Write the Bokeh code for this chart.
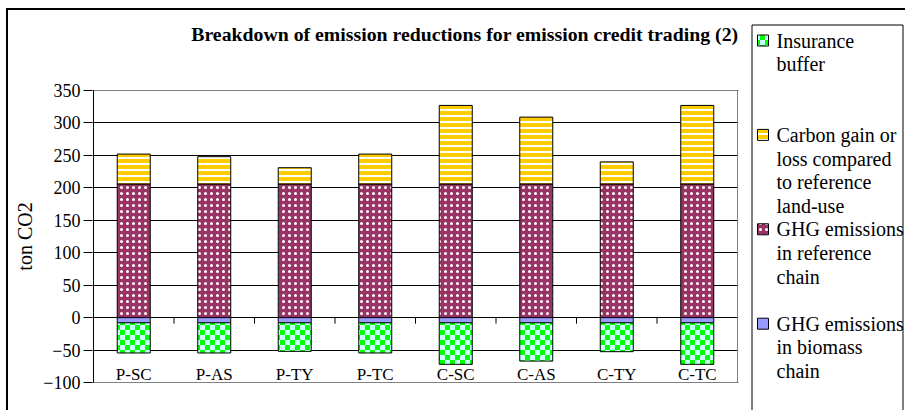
import math
from bokeh.plotting import figure
from bokeh.layouts import row
from bokeh.models import ColumnDataSource, Range1d, FixedTicker, CanvasTexture
from bokeh.embed import file_html
from bokeh.resources import INLINE
from bokeh.core.properties import value

# ---------------- data ----------------
categories = ["P-SC", "P-AS", "P-TY", "P-TC", "C-SC", "C-AS", "C-TY", "C-TC"]
insurance_buffer = [-46.5, -46.5, -44, -46.5, -64, -59, -44.5, -64]
carbon_gain = [46, 42, 25, 46, 121, 103, 34, 121]
ghg_reference = [206, 206, 206, 206, 206, 206, 206, 206]
ghg_biomass = [-8, -8, -8, -8, -8, -8, -8, -8]
y_ticks = [-100, -50, 0, 50, 100, 150, 200, 250, 300, 350]
y_min, y_max = -100, 350
series_names = ["Insurance\nbuffer",
                "Carbon gain or\nloss compared\nto reference\nland-use",
                "GHG emissions\nin reference\nchain",
                "GHG emissions\nin biomass\nchain"]
title_text = "Breakdown of emission reductions for emission credit trading (2)"
y_label = "ton CO2"

# ---------------- layout (page pixels) ----------------
FONT = "Liberation Serif"
GREEN, CYAN = "#00FF00", "#CCFFFF"
TOP, BOTTOM = 10, 410            # canvas rows used by all three panels
LAB_W = 32                       # y-label strip: page x 8..40
MAIN_X0, MAIN_X1 = 40, 745       # main chart canvas
PLOT_L, PLOT_R, PLOT_T, PLOT_B = 87, 737, 90, 382   # plot-area box
FRAME_L, FRAME_R = PLOT_L - 1, PLOT_R + 1
LEG_W = 905 - MAIN_X1
H = BOTTOM - TOP
TILE = 10

n = len(categories)
xs = [i + 0.5 for i in range(n)]
xpx = (PLOT_R - PLOT_L) / n
ypx = (PLOT_B - PLOT_T) / (y_max - y_min)

carb_top = [r + c for r, c in zip(ghg_reference, carbon_gain)]
ins_bottom = [b + i for b, i in zip(ghg_biomass, insurance_buffer)]

src = ColumnDataSource(dict(
    x=xs, zero=[0] * n, ref_top=ghg_reference, carb_top=carb_top,
    bio=ghg_biomass, ins_bottom=ins_bottom, pat=["checker"] * n,
))

checker = CanvasTexture(code=f"""
const S = {TILE}, h = {TILE // 2};
const c = ctx.canvas;
if (c && (c.width !== S || c.height !== S)) {{ c.width = S; c.height = S; }}
if (ctx.setTransform) {{ ctx.setTransform(1, 0, 0, 1, 0, 0); }}
ctx.fillStyle = '{CYAN}';
ctx.fillRect(0, 0, S, S);
ctx.fillStyle = '{GREEN}';
ctx.fillRect(0, 0, h, h);
ctx.fillRect(h, h, h, h);
""")

style_ins = dict(fill_color=CYAN, line_color="black", line_width=1,
                 hatch_pattern="pat", hatch_extra={"checker": checker},
                 hatch_color=GREEN, hatch_scale=TILE)
style_carb = dict(fill_color="#FFCC00", line_color="black", line_width=1,
                  hatch_pattern="horizontal_line", hatch_color="white",
                  hatch_scale=6, hatch_weight=2)
style_ref = dict(fill_color="#993366", line_color="black", line_width=1,
                 hatch_pattern="dot", hatch_color="white", hatch_scale=6,
                 hatch_weight=1.2)
style_bio = dict(fill_color="#9999FF", line_color="black", line_width=1)


def no_align(fig):
    if "frame_align" in fig.properties():
        fig.frame_align = False


# ---------------- main chart ----------------
x_start = -(PLOT_L - FRAME_L) / xpx
x_end = n + (FRAME_R - PLOT_R) / xpx
y_end = y_max + (PLOT_T - TOP) / ypx
y_start = y_min - (BOTTOM - PLOT_B) / ypx

p = figure(width=MAIN_X1 - MAIN_X0, height=H,
           x_range=Range1d(x_start, x_end), y_range=Range1d(y_start, y_end),
           output_backend="svg", toolbar_location=None, x_axis_location=None,
           min_border_left=FRAME_L - MAIN_X0, min_border_right=MAIN_X1 - FRAME_R,
           min_border_top=0, min_border_bottom=0,
           background_fill_color="white", border_fill_color="white",
           outline_line_color=None)
no_align(p)

p.yaxis.ticker = FixedTicker(ticks=y_ticks)
p.yaxis.major_label_text_font = FONT
p.yaxis.major_label_text_font_size = "18px"
p.yaxis.major_label_text_color = "black"
p.yaxis.axis_line_color = None
p.yaxis.major_tick_line_color = "black"
p.yaxis.major_tick_in = 0
p.yaxis.major_tick_out = 9
p.yaxis.minor_tick_line_color = None
p.yaxis.major_label_standoff = 3
p.ygrid.grid_line_color = "black"
p.xgrid.grid_line_color = None

# plot-area border and the value axis line
p.quad(left=[0], right=[n], bottom=[y_min], top=[y_max], fill_color=None,
       line_color="#808080", line_width=1)
p.segment(x0=[0], y0=[y_min], x1=[0], y1=[y_max], line_color="black", line_width=1)

W = 0.41
p.vbar(x="x", bottom="zero", top="ref_top", width=W, source=src, **style_ref)
p.vbar(x="x", bottom="ref_top", top="carb_top", width=W, source=src, **style_carb)
p.vbar(x="x", bottom="bio", top="zero", width=W, source=src, **style_bio)
p.vbar(x="x", bottom="ins_bottom", top="bio", width=W, source=src, **style_ins)

bounds = list(range(1, n))
p.segment(x0=bounds, y0=[0] * len(bounds), x1=bounds,
          y1=[-6 / ypx] * len(bounds), line_color="black", line_width=1)

p.text(x=xs, y=[y_min] * n, text=categories, text_align="center",
       text_baseline="bottom", y_offset=1,
       text_font=value(FONT), text_font_size="17px", text_color="black")

p.text(x=[n], y=[y_max], text=[title_text], text_align="right",
       text_baseline="middle", x_offset=1, y_offset=-(PLOT_T - 33),
       text_font=value(FONT), text_font_style="bold", text_font_size="19.8px",
       text_color="black")

# ---------------- y-axis title strip ----------------
lab = figure(width=LAB_W, height=H, x_range=Range1d(0, LAB_W), y_range=Range1d(H, 0),
             output_backend="svg", toolbar_location=None,
             x_axis_location=None, y_axis_location=None, min_border=0,
             outline_line_color=None, background_fill_color="white",
             border_fill_color="white")
no_align(lab)
lab.grid.visible = False
lab.text(x=[24 - 8], y=[(PLOT_T + PLOT_B) / 2 - TOP], text=[y_label], angle=math.pi / 2,
         text_align="center", text_baseline="middle",
         text_font=value(FONT), text_font_size="20px", text_color="black")

# ---------------- legend panel ----------------
leg = figure(width=LEG_W, height=H, x_range=Range1d(0, LEG_W), y_range=Range1d(H, 0),
             output_backend="svg", toolbar_location=None,
             x_axis_location=None, y_axis_location=None, min_border=0,
             outline_line_color=None, background_fill_color="white",
             border_fill_color="white")
no_align(leg)
leg.grid.visible = False

bx0, bx1, by0 = 751 - MAIN_X1 + 0.5, 902 - MAIN_X1 + 0.5, 24 - TOP + 0.5
leg.quad(left=[bx0], right=[bx1], top=[by0], bottom=[H + 20],
         fill_color=None, line_color="black", line_width=1)

LINE = 23.6
SLOT = 4
FIRST = 40 - TOP
styles = [style_ins, style_carb, style_ref, style_bio]
tx, ty, tt = [], [], []
for k, (name, st) in enumerate(zip(series_names, styles)):
    y0 = FIRST + k * SLOT * LINE
    gsrc = ColumnDataSource(dict(x=[762.5 - MAIN_X1], y=[y0], pat=["checker"]))
    leg.rect(x="x", y="y", width=11, height=11, width_units="screen",
             height_units="screen", source=gsrc, **st)
    for j, line in enumerate(name.split("\n")):
        tx.append(776 - MAIN_X1)
        ty.append(y0 + j * LINE)
        tt.append(line)
leg.text(x=tx, y=ty, text=tt, text_align="left", text_baseline="middle",
         text_font=value(FONT), text_font_size="20px", text_color="black")

layout = row(lab, p, leg, styles={"margin-left": "6px", "margin-top": "8px",
                                  "border-top": "2px solid black",
                                  "border-left": "2px solid black"})

open("out.html", "w").write(file_html(layout, INLINE))
